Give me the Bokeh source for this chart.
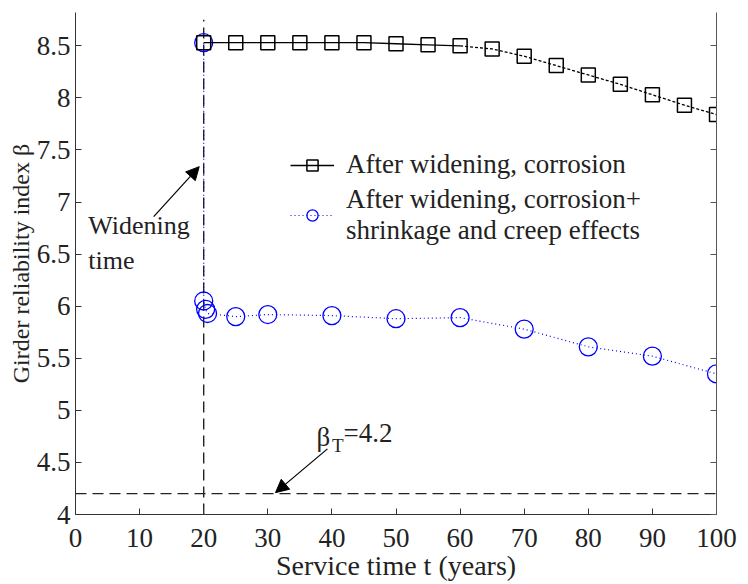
from bokeh.plotting import figure
from bokeh.models import (Range1d, LinearAxis, Legend, LegendItem, Label, Arrow,
                          NormalHead, Span, CustomJSTickFormatter, FixedTicker)
from bokeh.embed import file_html
from bokeh.resources import INLINE

# ---- data ----
t_corr = [20, 25, 30, 35, 40, 45, 50, 55, 60, 65, 70, 75, 80, 85, 90, 95, 100]
beta_corr = [8.53, 8.53, 8.53, 8.53, 8.53, 8.53, 8.52, 8.51, 8.50, 8.47, 8.40, 8.31,
             8.22, 8.13, 8.03, 7.93, 7.84]

t_cs = [20, 20, 20.3, 20.6, 25, 30, 40, 50, 60, 70, 80, 90, 100]
beta_cs = [8.53, 6.05, 5.97, 5.93, 5.90, 5.92, 5.91, 5.88, 5.89, 5.78, 5.61, 5.52, 5.35]

widening_t = 20
widening_top = 8.75
beta_target = 4.2

x_ticks = [0, 10, 20, 30, 40, 50, 60, 70, 80, 90, 100]
y_ticks = [4, 4.5, 5, 5.5, 6, 6.5, 7, 7.5, 8, 8.5]

FONT = "Liberation Serif"
TXT = "#222222"

p = figure(width=748, height=584, output_backend="svg", toolbar_location=None,
           x_range=Range1d(0, 100), y_range=Range1d(4, 8.82),
           min_border_left=75, min_border_right=32, min_border_top=12, min_border_bottom=70,
           x_axis_label="Service time t (years)", y_axis_label="Girder reliability index β")
p.grid.visible = False
p.outline_line_color = None
p.background_fill_color = "white"
p.border_fill_color = "white"

fmt = CustomJSTickFormatter(code="return tick.toString();")
for ax in [p.xaxis[0], p.yaxis[0]]:
    ax.formatter = fmt
    ax.major_tick_in = 6
    ax.major_tick_out = 0
    ax.minor_tick_in = 0
    ax.minor_tick_out = 0
    ax.axis_line_color = "#333333"
    ax.major_tick_line_color = "#333333"
    ax.major_label_text_font = FONT
    ax.major_label_text_font_size = "27px"
    ax.major_label_text_color = TXT
    ax.axis_label_text_font = FONT
    ax.axis_label_text_font_style = "normal"
    ax.axis_label_text_color = TXT
p.xaxis[0].ticker = FixedTicker(ticks=x_ticks)
p.yaxis[0].ticker = FixedTicker(ticks=y_ticks)
p.xaxis[0].axis_label_text_font_size = "28px"
p.yaxis[0].axis_label_text_font_size = "24px"
p.xaxis[0].major_label_standoff = 14
p.xaxis[0].axis_label_standoff = 0
p.yaxis[0].major_label_standoff = 5
p.yaxis[0].axis_label_standoff = 0

right = LinearAxis(ticker=FixedTicker(ticks=y_ticks),
                   formatter=CustomJSTickFormatter(code="return '';"),
                   major_tick_in=6, major_tick_out=0, minor_tick_in=0, minor_tick_out=0,
                   axis_line_color="#555555", major_tick_line_color="#555555",
                   major_label_standoff=0)
p.add_layout(right, "right")

# reference lines
p.segment(x0=[widening_t], y0=[4], x1=[widening_t], y1=[widening_top],
          line_color="#222222", line_width=1.4, line_dash="11 6")
p.add_layout(Span(location=beta_target, dimension="width", line_color="#222222",
                  line_width=1.3, line_dash="11 6"))

# blue series
bl = p.line(t_cs, beta_cs, line_color="blue", line_width=1.2, line_dash="1 3")
bs = p.scatter(t_cs, beta_cs, marker="circle", size=18, fill_color=None,
               line_color="blue", line_width=1.3)

# black series
k1 = p.line(t_corr[:9], beta_corr[:9], line_color="black", line_width=1.3)
k2 = p.line(t_corr[8:], beta_corr[8:], line_color="black", line_width=1.3, line_dash="3 2")
ks = p.scatter(t_corr, beta_corr, marker="square", size=14, fill_color=None,
               line_color="black", line_width=1.5)

legend = Legend(items=[
    LegendItem(label="After widening, corrosion", renderers=[k1, ks]),
    LegendItem(label="After widening, corrosion+\nshrinkage and creep effects", renderers=[bl, bs]),
], location=(215, 268), border_line_color=None, background_fill_alpha=0,
    label_text_font=FONT, label_text_font_size="27px", label_text_color=TXT,
    glyph_width=44, glyph_height=28, label_standoff=12, spacing=4, padding=0, margin=0)
p.add_layout(legend)

# annotations
p.add_layout(Label(x=2.0, y=6.91, text="Widening\ntime", text_font=FONT,
                   text_font_size="26px", text_color=TXT, text_baseline="top"))
p.add_layout(Arrow(end=NormalHead(size=13, fill_color="black", line_color="black"),
                   x_start=12.2, y_start=6.86, x_end=19.3, y_end=7.34,
                   line_color="black", line_width=1.2))

p.add_layout(Label(x=37.6, y=4.74, text="β", text_font=FONT, text_font_size="27px",
                   text_color=TXT, text_baseline="middle"))
p.add_layout(Label(x=40.0, y=4.66, text="T", text_font=FONT, text_font_size="19px",
                   text_color=TXT, text_baseline="middle"))
p.add_layout(Label(x=41.8, y=4.78, text="=4.2", text_font=FONT, text_font_size="27px",
                   text_color=TXT, text_baseline="middle"))
p.add_layout(Arrow(end=NormalHead(size=13, fill_color="black", line_color="black"),
                   x_start=39.3, y_start=4.63, x_end=31.2, y_end=4.21,
                   line_color="black", line_width=1.2))

open("out.html", "w").write(file_html(p, INLINE))
